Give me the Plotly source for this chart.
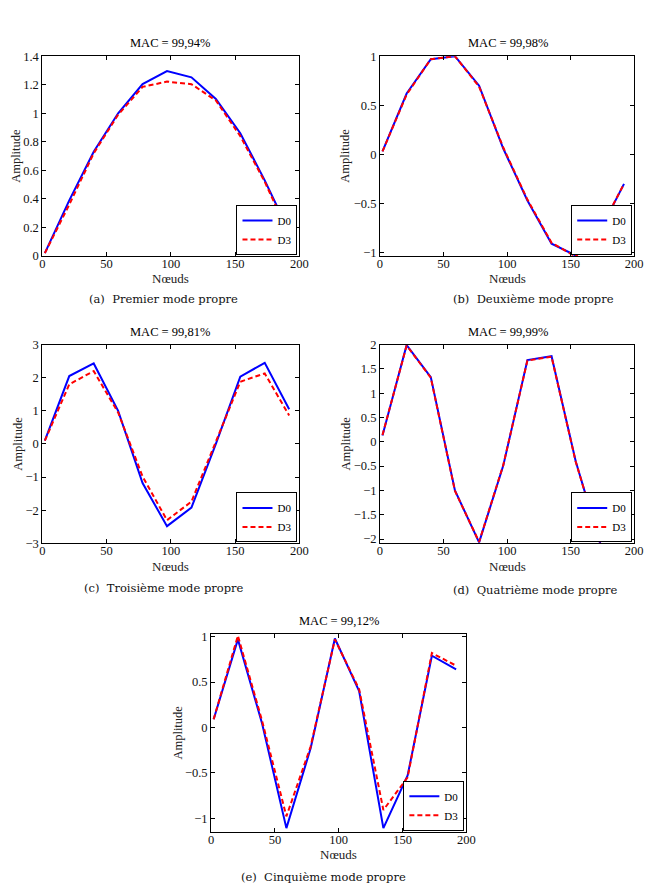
import plotly.graph_objects as go

W, H = 653, 886

NODES = [2, 21, 40, 59, 78, 97, 116, 135, 154, 173, 192]

A_D0 = [0.02, 0.39, 0.73, 1.0, 1.205, 1.296, 1.252, 1.10, 0.86, 0.53, 0.17]
A_D3 = [0.02, 0.36, 0.72, 0.99, 1.185, 1.222, 1.204, 1.09, 0.84, 0.52, 0.15]

B_D0 = [0.03, 0.62, 0.97, 1.0, 0.70, 0.06, -0.47, -0.91, -1.03, -0.78, -0.30]
B_D3 = [0.03, 0.61, 0.97, 1.0, 0.69, 0.07, -0.46, -0.90, -1.04, -0.77, -0.30]

C_D0 = [0.10, 2.05, 2.43, 1.00, -1.18, -2.48, -1.92, 0.00, 2.03, 2.45, 1.05]
C_D3 = [0.10, 1.80, 2.20, 0.95, -0.98, -2.30, -1.74, 0.08, 1.88, 2.13, 0.86]

D_D0 = [0.13, 1.99, 1.33, -1.00, -2.07, -0.49, 1.68, 1.76, -0.40, -2.07, -1.11]
D_D3 = [0.14, 1.98, 1.32, -1.01, -2.06, -0.48, 1.67, 1.75, -0.41, -2.06, -1.10]

E_D0 = [0.09, 0.97, 0.04, -1.11, -0.23, 0.98, 0.40, -1.11, -0.53, 0.79, 0.64]
E_D3 = [0.09, 1.01, 0.07, -0.98, -0.21, 0.97, 0.42, -0.91, -0.55, 0.82, 0.68]

TITLES = ["MAC = 99,94%", "MAC = 99,98%", "MAC = 99,81%", "MAC = 99,99%", "MAC = 99,12%"]
CAPTIONS = ["(a)  Premier mode propre", "(b)  Deuxième mode propre",
            "(c)  Troisième mode propre", "(d)  Quatrième mode propre",
            "(e)  Cinquième mode propre"]
YRANGES = [[0, 1.4], [-1.035, 1.0], [-3, 3], [-2.09, 2.0], [-1.15, 1.03]]
YDTICK = [0.2, 0.5, 1, 0.5, 0.5]
SERIES = [(A_D0, A_D3), (B_D0, B_D3), (C_D0, C_D3), (D_D0, D_D3), (E_D0, E_D3)]

# axes boxes in pixels: (left, right, top, bottom)
BOXES = [(40, 302, 50, 253), (384, 643, 50, 253),
         (40, 302, 343, 545), (384, 643, 343, 545),
         (212, 472, 637, 838)]
TITLE_X = [170, 514, 170, 514, 342]
CAP_POS = [(164, 297), (540, 297), (164, 590), (542, 592), (327, 884)]
YLAB_X = [13, 349, 15, 349, 178]

FONT = "Liberation Serif"
CAPFONT = "DejaVu Serif"

fig = go.Figure()
annotations = []

for i, ((d0, d3), box) in enumerate(zip(SERIES, BOXES)):
    l, r, t, b = box
    n = "" if i == 0 else str(i + 1)
    xa, ya = "x" + n, "y" + n
    lg = "legend" + n
    fig.add_trace(go.Scatter(x=NODES, y=d0, mode="lines", name="D0",
                             line=dict(color="#0000ff", width=2),
                             xaxis=xa, yaxis=ya, legend=lg))
    fig.add_trace(go.Scatter(x=NODES, y=d3, mode="lines", name="D3",
                             line=dict(color="#ff0000", width=2, dash="5px,3px"),
                             xaxis=xa, yaxis=ya, legend=lg))
    axcommon = dict(showline=True, linecolor="black", linewidth=1, mirror="ticks",
                    ticks="inside", ticklen=4, tickcolor="black", showgrid=False,
                    zeroline=False, tickfont=dict(family=FONT, size=12.5, color="#111"))
    fig.update_layout(**{
        "xaxis" + n: dict(domain=[l / W, r / W], range=[0, 200], dtick=50,
                          anchor=ya, ticklabelstandoff=-4, **axcommon),
        "yaxis" + n: dict(domain=[1 - b / H, 1 - t / H], range=YRANGES[i],
                          dtick=YDTICK[i], tick0=0, anchor=xa, **axcommon),
        lg: dict(x=(r - 2) / W, y=1 - (b - 1) / H, xanchor="right", yanchor="bottom",
                 xref="paper", yref="paper", bgcolor="white", bordercolor="black",
                 borderwidth=1, itemwidth=30, tracegroupgap=0,
                 font=dict(family=FONT, size=11, color="black")),
    })
    annotations.append(dict(text=TITLES[i], x=TITLE_X[i] / W, y=1 - (t - 13) / H,
                            xref="paper", yref="paper", showarrow=False,
                            xanchor="center", yanchor="middle",
                            font=dict(family=FONT, size=12.5, color="black")))
    annotations.append(dict(text="Nœuds", x=(l + r) / 2 / W, y=1 - (b + 23) / H,
                            xref="paper", yref="paper", showarrow=False,
                            xanchor="center", yanchor="middle",
                            font=dict(family=FONT, size=13, color="#222")))
    annotations.append(dict(text="Amplitude", x=YLAB_X[i] / W, y=1 - (t + b) / 2 / H,
                            xref="paper", yref="paper", showarrow=False, textangle=-90,
                            xanchor="center", yanchor="middle",
                            font=dict(family=FONT, size=12.5, color="#222")))
    cx, cy = CAP_POS[i]
    annotations.append(dict(text=CAPTIONS[i], x=cx / W, y=1 - cy / H,
                            xref="paper", yref="paper", showarrow=False,
                            xanchor="center", yanchor="middle",
                            font=dict(family=CAPFONT, size=11.5, color="#111")))

fig.update_layout(width=W, height=H, margin=dict(l=0, r=0, t=0, b=0),
                  paper_bgcolor="white", plot_bgcolor="white",
                  showlegend=True, annotations=annotations)

fig.write_html("out.html")
